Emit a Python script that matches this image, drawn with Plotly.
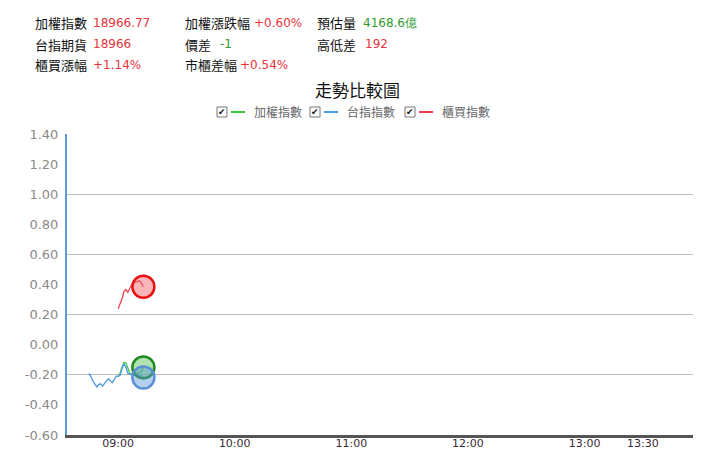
import plotly.graph_objects as go

# ---- data ----
taiex_times = ["09:00","09:01","09:02","09:03","09:04","09:05","09:06","09:07",
               "09:08","09:09","09:10","09:11","09:12","09:13"]
taiex_vals = [-0.215,-0.19,-0.15,-0.118,-0.12,-0.16,-0.19,-0.195,
              -0.19,-0.185,-0.19,-0.185,-0.18,-0.151]

fut_times = ["08:45","08:46","08:47","08:48","08:49","08:50","08:51","08:52",
             "08:53","08:54","08:55","08:56","08:57","08:58","08:59","09:00",
             "09:01","09:02","09:03","09:04","09:05","09:06","09:07","09:08",
             "09:09","09:10","09:11","09:12","09:13"]
fut_vals = [-0.19,-0.21,-0.24,-0.265,-0.28,-0.265,-0.26,-0.275,
            -0.255,-0.24,-0.228,-0.242,-0.253,-0.23,-0.21,-0.208,
            -0.205,-0.16,-0.125,-0.15,-0.19,-0.198,-0.20,-0.195,
            -0.205,-0.20,-0.21,-0.205,-0.218]

otc_times = ["09:00","09:01","09:02","09:03","09:04","09:05","09:06","09:07",
             "09:08","09:09","09:10","09:11","09:12","09:13"]
otc_vals = [0.238,0.27,0.305,0.353,0.367,0.349,0.375,0.398,
            0.41,0.415,0.42,0.425,0.41,0.385]

series_names = ["加權指數", "台指指數", "櫃買指數"]
x_tick_labels = ["09:00", "10:00", "11:00", "12:00", "13:00", "13:30"]
y_tick_vals = [-0.6, -0.4, -0.2, 0.0, 0.2, 0.4, 0.6, 0.8, 1.0, 1.2, 1.4]
grid_vals = [-0.2, 0.2, 0.6, 1.0]

header_rows = [
    [("加權指數", "18966.77", "#e8333c"), ("加權漲跌幅", "+0.60%", "#e8333c"), ("預估量", "4168.6億", "#2e9a2e")],
    [("台指期貨", "18966", "#e8333c"), ("價差", "-1", "#2e9a2e"), ("高低差", "192", "#e8333c")],
    [("櫃買漲幅", "+1.14%", "#e8333c"), ("市櫃差幅", "+0.54%", "#e8333c")],
]


def to_min(t):
    h, m = t.split(":")
    return int(h) * 60 + int(m)


OFF = 8  # default page body margin
W, H = 720 - OFF, 474 - OFF
L, R, T, B = 67, 693, 134, 435


def px(x):
    return (x - L) / (R - L)


def py(y):
    return (B - y) / (B - T)


line_cols = ["#3fc43f", "#4a9be8", "#f03c4a"]
ring_cols = ["#1f8a1f", "#5b8fd6", "#e81010"]
fill_cols = ["rgba(80,190,80,0.45)", "rgba(90,150,220,0.45)", "rgba(245,90,100,0.45)"]

fig = go.Figure()
all_series = [(taiex_times, taiex_vals), (fut_times, fut_vals), (otc_times, otc_vals)]
for i, (ts, vs) in enumerate(all_series):
    xs = [to_min(t) for t in ts]
    fig.add_trace(go.Scatter(x=xs, y=vs, mode="lines", line=dict(color=line_cols[i], width=1.3),
                             name=series_names[i], showlegend=False, hoverinfo="skip"))
for i in [0, 1, 2]:
    ts, vs = all_series[i]
    fig.add_trace(go.Scatter(x=[to_min(ts[-1])], y=[vs[-1]], mode="markers",
                             marker=dict(size=22, color=fill_cols[i],
                                         line=dict(color=ring_cols[i], width=2.5)),
                             showlegend=False, hoverinfo="skip"))

# grid lines via overlay axis
fig.add_trace(go.Scatter(x=[None], y=[None], yaxis="y2", showlegend=False))

xmin = to_min("09:00") - 26.3
xmax = to_min("13:30") + 25.8

fig.update_layout(
    width=W, height=H,
    margin=dict(l=L - OFF, r=720 - R, t=T - OFF, b=474 - B, pad=0),
    paper_bgcolor="white", plot_bgcolor="white",
    font=dict(family="DejaVu Sans", size=12, color="#333"),
    xaxis=dict(range=[xmin, xmax], tickvals=[to_min(t) for t in x_tick_labels],
               ticktext=x_tick_labels, showgrid=False, zeroline=False,
               showline=True, linecolor="#555", linewidth=2.5,
               ticks="", ticklabelstandoff=-4,
               tickfont=dict(family="DejaVu Sans", size=11, color="#3a2a35"),
               fixedrange=True),
    yaxis=dict(range=[-0.6, 1.4], tickvals=y_tick_vals,
               ticktext=["%.2f" % v for v in y_tick_vals],
               showgrid=False, zeroline=False, showline=True, linecolor="#5b9bd5",
               linewidth=2, ticks="", ticklabelstandoff=4,
               tickfont=dict(family="DejaVu Sans", size=13, color="#8a8a8a")),
    yaxis2=dict(range=[-0.6, 1.4], overlaying="y", tickvals=grid_vals, showticklabels=False,
                showgrid=True, gridcolor="#bdbdbd", gridwidth=1.2, zeroline=False, showline=False),
)

ann = []
cjk = "Noto Sans CJK TC"
col_x = [(33, 90.5), (182.5, 251.5), (315, 360.5)]
col_x_row = {
    (1, 1): 218, (2, 1): 238, (1, 2): 362.5,
}
row_y = [22.5, 44, 64.5]
for r, row in enumerate(header_rows):
    for c, (lab, val, colr) in enumerate(row):
        lx, vx = col_x[c]
        vx = col_x_row.get((r, c), vx)
        ann.append(dict(text=lab, x=px(lx), y=py(row_y[r]), xref="paper", yref="paper",
                        xanchor="left", yanchor="middle", showarrow=False,
                        font=dict(family=cjk, size=13, color="#111")))
        ann.append(dict(text=val, x=px(vx), y=py(row_y[r]), xref="paper", yref="paper",
                        xanchor="left", yanchor="middle", showarrow=False,
                        font=dict(family="DejaVu Sans", size=12, color=colr)))

# title
ann.append(dict(text="走勢比較圖", x=px(357), y=py(90), xref="paper", yref="paper",
                xanchor="center", yanchor="middle", showarrow=False,
                font=dict(family=cjk, size=17, color="#111")))

# legend
shapes = []
leg_x = [217, 310, 405]
for i, lx in enumerate(leg_x):
    shapes.append(dict(type="rect", xref="paper", yref="paper",
                       x0=px(lx), x1=px(lx + 10), y0=py(117), y1=py(107),
                       line=dict(color="#777", width=1), fillcolor="white"))
    ann.append(dict(text="✔", x=px(lx + 5), y=py(112), xref="paper", yref="paper",
                    xanchor="center", yanchor="middle", showarrow=False,
                    font=dict(family="DejaVu Sans", size=9, color="#111")))
    shapes.append(dict(type="line", xref="paper", yref="paper",
                       x0=px(lx + 14), x1=px(lx + 28), y0=py(112), y1=py(112),
                       line=dict(color=line_cols[i], width=2)))
    ann.append(dict(text=series_names[i], x=px(lx + 35), y=py(112), xref="paper", yref="paper",
                    xanchor="left", yanchor="middle", showarrow=False,
                    font=dict(family=cjk, size=12, color="#666")))

fig.update_layout(annotations=ann, shapes=shapes)
fig.write_html("out.html")
